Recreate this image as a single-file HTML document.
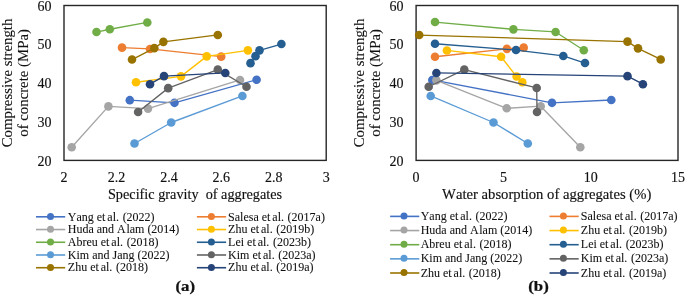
<!DOCTYPE html>
<html><head><meta charset="utf-8"><style>
html,body{margin:0;padding:0;background:#fff;width:685px;height:296px;overflow:hidden}
svg{display:block;will-change:transform}
text{font-family:"Liberation Serif",serif;font-kerning:none;fill:#111;stroke:#111;stroke-width:0.25px}
.tk{font-size:14px;stroke-width:0.15px}
.yt{font-size:14.8px;stroke-width:0.1px}
.lg{font-size:12px;stroke-width:0.08px}
.lb{font-size:15px;font-weight:bold}
</style></head><body>
<svg width="685" height="296" viewBox="0 0 685 296">
<rect x="64" y="5.5" width="262.2" height="154.9" fill="none" stroke="#262626" stroke-width="1.4"/>
<text x="51.4" y="10.7" class="tk" text-anchor="end">60</text>
<text x="51.4" y="49.425000000000004" class="tk" text-anchor="end">50</text>
<text x="51.4" y="88.15" class="tk" text-anchor="end">40</text>
<text x="51.4" y="126.87500000000001" class="tk" text-anchor="end">30</text>
<text x="51.4" y="165.6" class="tk" text-anchor="end">20</text>
<text x="64.0" y="182.1" class="tk" text-anchor="middle">2</text>
<text x="116.44" y="182.1" class="tk" text-anchor="middle">2.2</text>
<text x="168.88" y="182.1" class="tk" text-anchor="middle">2.4</text>
<text x="221.32" y="182.1" class="tk" text-anchor="middle">2.6</text>
<text x="273.76" y="182.1" class="tk" text-anchor="middle">2.8</text>
<text x="326.2" y="182.1" class="tk" text-anchor="middle">3</text>
<text x="195" y="199.4" class="tk" style="font-size:14.25px" text-anchor="middle" xml:space="preserve">Specific gravity  of aggregates</text>
<text transform="translate(11.899999999999999,82.95) rotate(-90)" class="yt" text-anchor="middle">Compressive strength</text>
<text transform="translate(27.700000000000003,82.95) rotate(-90)" class="yt" text-anchor="middle">of concrete (MPa)</text>
<polyline points="129.8,100.17 174.5,102.83 256.6,79.75" fill="none" stroke="#4472C4" stroke-width="1.35" stroke-linejoin="round"/>
<circle cx="129.8" cy="100.17" r="4.3" fill="#4472C4"/>
<circle cx="174.5" cy="102.83" r="4.3" fill="#4472C4"/>
<circle cx="256.6" cy="79.75" r="4.3" fill="#4472C4"/>
<polyline points="122,47.65 150,48.95 221.2,56.65" fill="none" stroke="#ED7D31" stroke-width="1.35" stroke-linejoin="round"/>
<circle cx="122" cy="47.65" r="4.3" fill="#ED7D31"/>
<circle cx="150" cy="48.95" r="4.3" fill="#ED7D31"/>
<circle cx="221.2" cy="56.65" r="4.3" fill="#ED7D31"/>
<polyline points="71.7,147.2 108.4,106.4 148,108.6 240,79.95" fill="none" stroke="#A5A5A5" stroke-width="1.35" stroke-linejoin="round"/>
<circle cx="71.7" cy="147.2" r="4.3" fill="#A5A5A5"/>
<circle cx="108.4" cy="106.4" r="4.3" fill="#A5A5A5"/>
<circle cx="148" cy="108.6" r="4.3" fill="#A5A5A5"/>
<circle cx="240" cy="79.95" r="4.3" fill="#A5A5A5"/>
<polyline points="136,82.22 181,76.35 206.7,56.35 247.9,50.35" fill="none" stroke="#FFC000" stroke-width="1.35" stroke-linejoin="round"/>
<circle cx="136" cy="82.22" r="4.3" fill="#FFC000"/>
<circle cx="181" cy="76.35" r="4.3" fill="#FFC000"/>
<circle cx="206.7" cy="56.35" r="4.3" fill="#FFC000"/>
<circle cx="247.9" cy="50.35" r="4.3" fill="#FFC000"/>
<polyline points="96.5,32.05 109.8,29.25 147.3,22.45" fill="none" stroke="#70AD47" stroke-width="1.35" stroke-linejoin="round"/>
<circle cx="96.5" cy="32.05" r="4.3" fill="#70AD47"/>
<circle cx="109.8" cy="29.25" r="4.3" fill="#70AD47"/>
<circle cx="147.3" cy="22.45" r="4.3" fill="#70AD47"/>
<polyline points="250.5,63.15 255.5,56.15 259.5,50.35 281.4,44.05" fill="none" stroke="#255E91" stroke-width="1.35" stroke-linejoin="round"/>
<circle cx="250.5" cy="63.15" r="4.3" fill="#255E91"/>
<circle cx="255.5" cy="56.15" r="4.3" fill="#255E91"/>
<circle cx="259.5" cy="50.35" r="4.3" fill="#255E91"/>
<circle cx="281.4" cy="44.05" r="4.3" fill="#255E91"/>
<polyline points="134.5,143.5 171.2,122.5 242.4,95.93" fill="none" stroke="#5B9BD5" stroke-width="1.35" stroke-linejoin="round"/>
<circle cx="134.5" cy="143.5" r="4.3" fill="#5B9BD5"/>
<circle cx="171.2" cy="122.5" r="4.3" fill="#5B9BD5"/>
<circle cx="242.4" cy="95.93" r="4.3" fill="#5B9BD5"/>
<polyline points="138.1,112 168.2,88.14 217.8,69.65 246.5,86.76" fill="none" stroke="#636363" stroke-width="1.35" stroke-linejoin="round"/>
<circle cx="138.1" cy="112" r="4.3" fill="#636363"/>
<circle cx="168.2" cy="88.14" r="4.3" fill="#636363"/>
<circle cx="217.8" cy="69.65" r="4.3" fill="#636363"/>
<circle cx="246.5" cy="86.76" r="4.3" fill="#636363"/>
<polyline points="132,59.55 154.3,48.15 163.4,41.85 217.8,34.95" fill="none" stroke="#997300" stroke-width="1.35" stroke-linejoin="round"/>
<circle cx="132" cy="59.55" r="4.3" fill="#997300"/>
<circle cx="154.3" cy="48.15" r="4.3" fill="#997300"/>
<circle cx="163.4" cy="41.85" r="4.3" fill="#997300"/>
<circle cx="217.8" cy="34.95" r="4.3" fill="#997300"/>
<polyline points="150,84.2 164,76.15 225.3,72.95" fill="none" stroke="#264478" stroke-width="1.35" stroke-linejoin="round"/>
<circle cx="150" cy="84.2" r="4.3" fill="#264478"/>
<circle cx="164" cy="76.15" r="4.3" fill="#264478"/>
<circle cx="225.3" cy="72.95" r="4.3" fill="#264478"/>
<rect x="416.1" y="5.5" width="261.9" height="154.9" fill="none" stroke="#262626" stroke-width="1.4"/>
<text x="403.5" y="10.7" class="tk" text-anchor="end">60</text>
<text x="403.5" y="49.425000000000004" class="tk" text-anchor="end">50</text>
<text x="403.5" y="88.15" class="tk" text-anchor="end">40</text>
<text x="403.5" y="126.87500000000001" class="tk" text-anchor="end">30</text>
<text x="403.5" y="165.6" class="tk" text-anchor="end">20</text>
<text x="416.1" y="182.1" class="tk" text-anchor="middle">0</text>
<text x="503.40000000000003" y="182.1" class="tk" text-anchor="middle">5</text>
<text x="590.7" y="182.1" class="tk" text-anchor="middle">10</text>
<text x="678.0" y="182.1" class="tk" text-anchor="middle">15</text>
<text x="546.7" y="198.8" class="tk" style="font-size:14.66px" text-anchor="middle" xml:space="preserve">Water absorption of aggregates (%)</text>
<text transform="translate(364.0,82.95) rotate(-90)" class="yt" text-anchor="middle">Compressive strength</text>
<text transform="translate(379.8,82.95) rotate(-90)" class="yt" text-anchor="middle">of concrete (MPa)</text>
<polyline points="432.3,79.95 552,102.83 611.3,99.97" fill="none" stroke="#4472C4" stroke-width="1.35" stroke-linejoin="round"/>
<circle cx="432.3" cy="79.95" r="4.3" fill="#4472C4"/>
<circle cx="552" cy="102.83" r="4.3" fill="#4472C4"/>
<circle cx="611.3" cy="99.97" r="4.3" fill="#4472C4"/>
<polyline points="435,56.75 506.9,48.85 523.7,47.65" fill="none" stroke="#ED7D31" stroke-width="1.35" stroke-linejoin="round"/>
<circle cx="435" cy="56.75" r="4.3" fill="#ED7D31"/>
<circle cx="506.9" cy="48.85" r="4.3" fill="#ED7D31"/>
<circle cx="523.7" cy="47.65" r="4.3" fill="#ED7D31"/>
<polyline points="436.4,80.35 506.7,108.3 540.7,106.2 580.3,147.2" fill="none" stroke="#A5A5A5" stroke-width="1.35" stroke-linejoin="round"/>
<circle cx="436.4" cy="80.35" r="4.3" fill="#A5A5A5"/>
<circle cx="506.7" cy="108.3" r="4.3" fill="#A5A5A5"/>
<circle cx="540.7" cy="106.2" r="4.3" fill="#A5A5A5"/>
<circle cx="580.3" cy="147.2" r="4.3" fill="#A5A5A5"/>
<polyline points="446.9,50.45 501.1,56.75 516.6,76.55 522.3,82.32" fill="none" stroke="#FFC000" stroke-width="1.35" stroke-linejoin="round"/>
<circle cx="446.9" cy="50.45" r="4.3" fill="#FFC000"/>
<circle cx="501.1" cy="56.75" r="4.3" fill="#FFC000"/>
<circle cx="516.6" cy="76.55" r="4.3" fill="#FFC000"/>
<circle cx="522.3" cy="82.32" r="4.3" fill="#FFC000"/>
<polyline points="435,22.05 513.4,29.35 555.6,31.95 583.8,50.25" fill="none" stroke="#70AD47" stroke-width="1.35" stroke-linejoin="round"/>
<circle cx="435" cy="22.05" r="4.3" fill="#70AD47"/>
<circle cx="513.4" cy="29.35" r="4.3" fill="#70AD47"/>
<circle cx="555.6" cy="31.95" r="4.3" fill="#70AD47"/>
<circle cx="583.8" cy="50.25" r="4.3" fill="#70AD47"/>
<polyline points="435,43.75 516,50.05 563.3,55.95 585,63.05" fill="none" stroke="#255E91" stroke-width="1.35" stroke-linejoin="round"/>
<circle cx="435" cy="43.75" r="4.3" fill="#255E91"/>
<circle cx="516" cy="50.05" r="4.3" fill="#255E91"/>
<circle cx="563.3" cy="55.95" r="4.3" fill="#255E91"/>
<circle cx="585" cy="63.05" r="4.3" fill="#255E91"/>
<polyline points="430.7,95.93 493.5,122.5 527.8,143.5" fill="none" stroke="#5B9BD5" stroke-width="1.35" stroke-linejoin="round"/>
<circle cx="430.7" cy="95.93" r="4.3" fill="#5B9BD5"/>
<circle cx="493.5" cy="122.5" r="4.3" fill="#5B9BD5"/>
<circle cx="527.8" cy="143.5" r="4.3" fill="#5B9BD5"/>
<polyline points="428.7,86.76 464.3,69.65 536.7,87.94 537,112" fill="none" stroke="#636363" stroke-width="1.35" stroke-linejoin="round"/>
<circle cx="428.7" cy="86.76" r="4.3" fill="#636363"/>
<circle cx="464.3" cy="69.65" r="4.3" fill="#636363"/>
<circle cx="536.7" cy="87.94" r="4.3" fill="#636363"/>
<circle cx="537" cy="112" r="4.3" fill="#636363"/>
<polyline points="419.2,35.05 627.5,41.65 638,48.35 660.7,59.45" fill="none" stroke="#997300" stroke-width="1.35" stroke-linejoin="round"/>
<circle cx="419.2" cy="35.05" r="4.3" fill="#997300"/>
<circle cx="627.5" cy="41.65" r="4.3" fill="#997300"/>
<circle cx="638" cy="48.35" r="4.3" fill="#997300"/>
<circle cx="660.7" cy="59.45" r="4.3" fill="#997300"/>
<polyline points="436.4,72.95 627.5,76.15 642.9,84.2" fill="none" stroke="#264478" stroke-width="1.35" stroke-linejoin="round"/>
<circle cx="436.4" cy="72.95" r="4.3" fill="#264478"/>
<circle cx="627.5" cy="76.15" r="4.3" fill="#264478"/>
<circle cx="642.9" cy="84.2" r="4.3" fill="#264478"/>
<line x1="36.0" y1="216.80" x2="65.2" y2="216.80" stroke="#4472C4" stroke-width="1.6"/>
<circle cx="50.5" cy="216.50" r="3.5" fill="#4472C4"/>
<text x="67.8" y="220.50" class="lg">Yang et<tspan dx="-1.1"> al.</tspan><tspan dx="0.6"> (2022)</tspan></text>
<line x1="196.9" y1="216.80" x2="226.1" y2="216.80" stroke="#ED7D31" stroke-width="1.6"/>
<circle cx="211.4" cy="216.50" r="3.5" fill="#ED7D31"/>
<text x="228.1" y="220.50" class="lg">Salesa et<tspan dx="-1.1"> al.</tspan><tspan dx="0.6"> (2017a)</tspan></text>
<line x1="36.0" y1="229.53" x2="65.2" y2="229.53" stroke="#A5A5A5" stroke-width="1.6"/>
<circle cx="50.5" cy="229.23" r="3.5" fill="#A5A5A5"/>
<text x="67.8" y="233.23" class="lg">Huda and A<tspan dx="-2.4"> lam</tspan> (2014)</text>
<line x1="196.9" y1="229.53" x2="226.1" y2="229.53" stroke="#FFC000" stroke-width="1.6"/>
<circle cx="211.4" cy="229.23" r="3.5" fill="#FFC000"/>
<text x="228.1" y="233.23" class="lg">Zhu et<tspan dx="-1.1"> al.</tspan><tspan dx="0.6"> (2019b)</tspan></text>
<line x1="36.0" y1="242.26" x2="65.2" y2="242.26" stroke="#70AD47" stroke-width="1.6"/>
<circle cx="50.5" cy="241.96" r="3.5" fill="#70AD47"/>
<text x="67.8" y="245.96" class="lg">Abreu et<tspan dx="-1.1"> al.</tspan><tspan dx="0.6"> (2018)</tspan></text>
<line x1="196.9" y1="242.26" x2="226.1" y2="242.26" stroke="#255E91" stroke-width="1.6"/>
<circle cx="211.4" cy="241.96" r="3.5" fill="#255E91"/>
<text x="228.1" y="245.96" class="lg">Lei et<tspan dx="-1.1"> al.</tspan><tspan dx="0.6"> (2023b)</tspan></text>
<line x1="36.0" y1="254.99" x2="65.2" y2="254.99" stroke="#5B9BD5" stroke-width="1.6"/>
<circle cx="50.5" cy="254.69" r="3.5" fill="#5B9BD5"/>
<text x="67.8" y="258.69" class="lg">Kim and Jang (2022)</text>
<line x1="196.9" y1="254.99" x2="226.1" y2="254.99" stroke="#636363" stroke-width="1.6"/>
<circle cx="211.4" cy="254.69" r="3.5" fill="#636363"/>
<text x="228.1" y="258.69" class="lg">Kim et<tspan dx="-1.1"> al.</tspan><tspan dx="0.6"> (2023a)</tspan></text>
<line x1="36.0" y1="267.72" x2="65.2" y2="267.72" stroke="#997300" stroke-width="1.6"/>
<circle cx="50.5" cy="267.42" r="3.5" fill="#997300"/>
<text x="67.8" y="271.42" class="lg">Zhu et<tspan dx="-1.1"> al.</tspan><tspan dx="0.6"> (2018)</tspan></text>
<line x1="196.9" y1="267.72" x2="226.1" y2="267.72" stroke="#264478" stroke-width="1.6"/>
<circle cx="211.4" cy="267.42" r="3.5" fill="#264478"/>
<text x="228.1" y="271.42" class="lg">Zhu et<tspan dx="-1.1"> al.</tspan><tspan dx="0.6"> (2019a)</tspan></text>
<line x1="390.1" y1="216.40" x2="419.3" y2="216.40" stroke="#4472C4" stroke-width="1.6"/>
<circle cx="404.0" cy="215.90" r="3.5" fill="#4472C4"/>
<text x="420.70000000000005" y="220.00" class="lg">Yang et<tspan dx="-1.1"> al.</tspan><tspan dx="0.6"> (2022)</tspan></text>
<line x1="549.5" y1="216.40" x2="578.7" y2="216.40" stroke="#ED7D31" stroke-width="1.6"/>
<circle cx="563.4" cy="215.90" r="3.5" fill="#ED7D31"/>
<text x="580.8" y="220.00" class="lg">Salesa et<tspan dx="-1.1"> al.</tspan><tspan dx="0.6"> (2017a)</tspan></text>
<line x1="390.1" y1="230.55" x2="419.3" y2="230.55" stroke="#A5A5A5" stroke-width="1.6"/>
<circle cx="404.0" cy="230.05" r="3.5" fill="#A5A5A5"/>
<text x="420.70000000000005" y="234.15" class="lg">Huda and A<tspan dx="-2.4"> lam</tspan> (2014)</text>
<line x1="549.5" y1="230.55" x2="578.7" y2="230.55" stroke="#FFC000" stroke-width="1.6"/>
<circle cx="563.4" cy="230.05" r="3.5" fill="#FFC000"/>
<text x="580.8" y="234.15" class="lg">Zhu et<tspan dx="-1.1"> al.</tspan><tspan dx="0.6"> (2019b)</tspan></text>
<line x1="390.1" y1="244.70" x2="419.3" y2="244.70" stroke="#70AD47" stroke-width="1.6"/>
<circle cx="404.0" cy="244.20" r="3.5" fill="#70AD47"/>
<text x="420.70000000000005" y="248.30" class="lg">Abreu et<tspan dx="-1.1"> al.</tspan><tspan dx="0.6"> (2018)</tspan></text>
<line x1="549.5" y1="244.70" x2="578.7" y2="244.70" stroke="#255E91" stroke-width="1.6"/>
<circle cx="563.4" cy="244.20" r="3.5" fill="#255E91"/>
<text x="580.8" y="248.30" class="lg">Lei et<tspan dx="-1.1"> al.</tspan><tspan dx="0.6"> (2023b)</tspan></text>
<line x1="390.1" y1="258.85" x2="419.3" y2="258.85" stroke="#5B9BD5" stroke-width="1.6"/>
<circle cx="404.0" cy="258.35" r="3.5" fill="#5B9BD5"/>
<text x="420.70000000000005" y="262.45" class="lg">Kim and Jang (2022)</text>
<line x1="549.5" y1="258.85" x2="578.7" y2="258.85" stroke="#636363" stroke-width="1.6"/>
<circle cx="563.4" cy="258.35" r="3.5" fill="#636363"/>
<text x="580.8" y="262.45" class="lg">Kim et<tspan dx="-1.1"> al.</tspan><tspan dx="0.6"> (2023a)</tspan></text>
<line x1="390.1" y1="273.00" x2="419.3" y2="273.00" stroke="#997300" stroke-width="1.6"/>
<circle cx="404.0" cy="272.50" r="3.5" fill="#997300"/>
<text x="420.70000000000005" y="276.60" class="lg">Zhu et<tspan dx="-1.1"> al.</tspan><tspan dx="0.6"> (2018)</tspan></text>
<line x1="549.5" y1="273.00" x2="578.7" y2="273.00" stroke="#264478" stroke-width="1.6"/>
<circle cx="563.4" cy="272.50" r="3.5" fill="#264478"/>
<text x="580.8" y="276.60" class="lg">Zhu et<tspan dx="-1.1"> al.</tspan><tspan dx="0.6"> (2019a)</tspan></text>
<text transform="translate(185.3,291.1) scale(1.12,1)" class="lb" text-anchor="middle">(a)</text>
<text transform="translate(538.5,291.4) scale(1.12,1)" class="lb" text-anchor="middle">(b)</text>
</svg>
</body></html>
